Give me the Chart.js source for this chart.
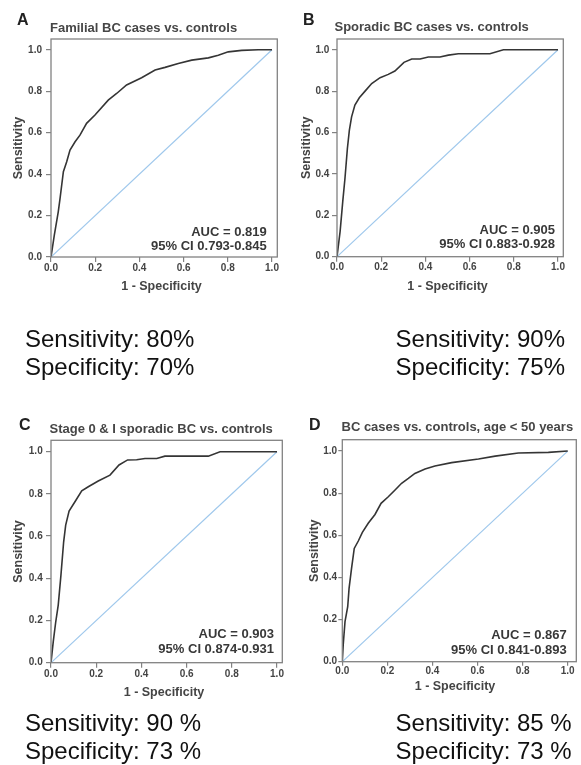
<!DOCTYPE html>
<html><head><meta charset="utf-8">
<script src="https://cdn.jsdelivr.net/npm/chart.js@4.4.0/dist/chart.umd.min.js"></script>
<style>
html,body{margin:0;padding:0;background:#fff;width:581px;height:765px;overflow:hidden;}
canvas{position:absolute;left:0;top:0;}
.note{position:absolute;font-family:"Liberation Sans",Arial,sans-serif;font-size:24px;line-height:27.5px;color:#111;white-space:nowrap;}
</style></head><body>
<canvas id="cA" width="581" height="765"></canvas>
<canvas id="cB" width="581" height="765"></canvas>
<canvas id="cC" width="581" height="765"></canvas>
<canvas id="cD" width="581" height="765"></canvas>
<div class="note" id="nA" style="left:25px;top:325px"></div>
<div class="note" id="nB" style="left:395.6px;top:325px"></div>
<div class="note" id="nC" style="left:25px;top:709px"></div>
<div class="note" id="nD" style="left:395.6px;top:709px"></div>
<script>
// ---- data ----
const xTicks = [0, 0.2, 0.4, 0.6, 0.8, 1.0];
const yTicks = [0, 0.2, 0.4, 0.6, 0.8, 1.0];
const diagX = [0, 1];
const diagY = [0, 1];

const fprA = [0, 0.015, 0.033, 0.041, 0.056, 0.071, 0.086, 0.109, 0.131, 0.161, 0.199, 0.259, 0.297, 0.342, 0.410, 0.471, 0.516, 0.576, 0.637, 0.712, 0.757, 0.802, 0.863, 0.938, 1.0];
const tprA = [0, 0.106, 0.219, 0.283, 0.412, 0.460, 0.516, 0.556, 0.588, 0.645, 0.685, 0.757, 0.789, 0.830, 0.865, 0.902, 0.915, 0.934, 0.950, 0.961, 0.974, 0.990, 0.997, 1.0, 1.0];

const fprB = [0, 0.014, 0.026, 0.036, 0.047, 0.056, 0.066, 0.081, 0.101, 0.127, 0.157, 0.195, 0.232, 0.262, 0.303, 0.338, 0.376, 0.413, 0.466, 0.504, 0.549, 0.692, 0.753, 1.0];
const tprB = [0, 0.121, 0.266, 0.378, 0.523, 0.612, 0.676, 0.733, 0.768, 0.800, 0.837, 0.865, 0.881, 0.897, 0.939, 0.955, 0.955, 0.965, 0.965, 0.974, 0.981, 0.981, 1.0, 1.0];

const fprC = [0, 0.010, 0.021, 0.032, 0.044, 0.056, 0.065, 0.080, 0.106, 0.136, 0.165, 0.209, 0.261, 0.301, 0.339, 0.379, 0.416, 0.468, 0.504, 0.696, 0.748, 1.0];
const tprC = [0, 0.100, 0.194, 0.273, 0.415, 0.573, 0.652, 0.719, 0.763, 0.814, 0.834, 0.861, 0.889, 0.937, 0.961, 0.962, 0.968, 0.968, 0.979, 0.979, 1.0, 1.0];

const fprD = [0, 0.004, 0.012, 0.024, 0.030, 0.041, 0.053, 0.071, 0.089, 0.115, 0.145, 0.172, 0.204, 0.234, 0.263, 0.293, 0.322, 0.367, 0.411, 0.485, 0.604, 0.678, 0.781, 0.914, 1.0];
const tprD = [0, 0.079, 0.190, 0.261, 0.348, 0.443, 0.538, 0.573, 0.614, 0.657, 0.699, 0.752, 0.783, 0.815, 0.847, 0.870, 0.894, 0.915, 0.929, 0.945, 0.962, 0.976, 0.991, 0.994, 1.0];

const panelLetters = ["A", "B", "C", "D"];
const panelTitles = ["Familial BC cases vs. controls", "Sporadic BC cases vs. controls", "Stage 0 & I sporadic BC vs. controls", "BC cases vs. controls, age < 50 years"];
const aucLabels = ["AUC = 0.819", "AUC = 0.905", "AUC = 0.903", "AUC = 0.867"];
const ciLabels = ["95% CI 0.793-0.845", "95% CI 0.883-0.928", "95% CI 0.874-0.931", "95% CI 0.841-0.893"];
const sensLabels = ["Sensitivity: 80%", "Sensitivity: 90%", "Sensitivity: 90 %", "Sensitivity: 85 %"];
const specLabels = ["Specificity: 70%", "Specificity: 75%", "Specificity: 73 %", "Specificity: 73 %"];
const xTitle = "1 - Specificity";
const yTitle = "Sensitivity";

// ---- layout (positions only) ----
const FONT = '"Liberation Sans", Arial, sans-serif';
const layouts = [
  {id:'cA', L:51, T:39, R:277.3, B:257, xMax:1.024, yMax:1.052, letter:[17,25], title:[50,31.5], aucR:266.7, aucY:[235.7,250], yTickPad:4, xTickPad:0.6, tickLen:5, yTitleX:19, xTitleBase:290},
  {id:'cB', L:337, T:39, R:563.3, B:256.7, xMax:1.024, yMax:1.052, letter:[303,25], title:[334.5,31], aucR:555, aucY:[234,248], yTickPad:2.7, xTickPad:0, tickLen:5, yTitleX:306.8, xTitleBase:290},
  {id:'cC', L:51, T:440.3, R:282.3, B:662.7, xMax:1.0235, yMax:1.054, letter:[19,430], title:[49.5,432.5], aucR:274, aucY:[638.3,652.7], yTickPad:3.3, xTickPad:0.6, tickLen:5, yTitleX:18.5, xTitleBase:696},
  {id:'cD', L:342.3, T:439.7, R:576.3, B:661.7, xMax:1.038, yMax:1.054, letter:[309,430], title:[341.5,431], aucR:566.7, aucY:[639.3,654], yTickPad:1.2, xTickPad:-0.5, tickLen:4, yTitleX:314.3, xTitleBase:690}
];
const series = [[fprA,tprA],[fprB,tprB],[fprC,tprC],[fprD,tprD]];

const AX_W = 40, AX_H = 40, CW = 581, CH = 765;
const frameColor = '#828282', tickColor = '#828282', labelColor = '#444';

const annot = {
  id: 'annot',
  afterDatasetsDraw(chart, args, o) {
    const {ctx, chartArea: a} = chart;
    ctx.save();
    ctx.strokeStyle = frameColor; ctx.lineWidth = 1.3;
    ctx.strokeRect(a.left, a.top, a.right - a.left, a.bottom - a.top);
    ctx.restore();
  },
  afterDraw(chart, args, o) {
    const ctx = chart.ctx;
    ctx.save();
    ctx.textBaseline = 'alphabetic';
    ctx.textAlign = 'left';
    ctx.fillStyle = '#222';
    ctx.font = 'bold 16px ' + FONT;
    ctx.fillText(o.letter, o.letterPos[0], o.letterPos[1]);
    ctx.fillStyle = '#464646';
    ctx.font = 'bold 13px ' + FONT;
    ctx.fillText(o.title, o.titlePos[0], o.titlePos[1]);
    ctx.textAlign = 'right';
    ctx.fillStyle = '#383838';
    ctx.fillText(o.auc, o.aucR, o.aucY[0]);
    ctx.fillText(o.ci, o.aucR, o.aucY[1]);
    ctx.textAlign = 'center';
    ctx.fillStyle = labelColor;
    ctx.font = 'bold 12.5px ' + FONT;
    ctx.fillText(xTitle, chart.scales.x.getPixelForValue(0.5), o.xTitleBase);
    ctx.restore();
  }
};

layouts.forEach((p, i) => {
  const [fx, ty] = series[i];
  const roc = fx.map((v, k) => ({x: v, y: ty[k]}));
  const diag = diagX.map((v, k) => ({x: v, y: diagY[k]}));
  const yTitlePad = p.yTitleX - (p.L - AX_W) - 7.5;
  new Chart(document.getElementById(p.id), {
    type: 'scatter',
    data: {datasets: [
      {data: diag, showLine: true, borderColor: '#9fc8ec', borderWidth: 1.2, pointRadius: 0, order: 2},
      {data: roc, showLine: true, borderColor: '#353535', borderWidth: 1.6, pointRadius: 0, tension: 0, order: 1}
    ]},
    options: {
      responsive: false, animation: false, devicePixelRatio: 1,
      layout: {padding: {left: p.L - AX_W, top: p.T, right: CW - p.R, bottom: CH - p.B - AX_H}},
      plugins: {legend: {display: false}, tooltip: {enabled: false},
        annot: {letter: panelLetters[i], title: panelTitles[i], auc: aucLabels[i], ci: ciLabels[i],
                letterPos: p.letter, titlePos: p.title, aucR: p.aucR, aucY: p.aucY, xTitleBase: p.xTitleBase}},
      scales: {
        x: {type: 'linear', min: 0, max: p.xMax,
          afterBuildTicks: s => { s.ticks = xTicks.map(v => ({value: v})); },
          afterFit: s => { s.height = AX_H; },
          grid: {display: true, drawOnChartArea: false, drawTicks: true, tickLength: p.tickLen, color: tickColor, lineWidth: 1.2},
          border: {display: false},
          ticks: {padding: p.xTickPad, color: labelColor, font: {family: FONT, size: 10, weight: 'bold'}, maxRotation: 0, autoSkip: false,
                  callback: v => Number(v).toFixed(1)}
        },
        y: {type: 'linear', min: 0, max: p.yMax,
          afterBuildTicks: s => { s.ticks = yTicks.map(v => ({value: v})); },
          afterFit: s => { s.width = AX_W; },
          grid: {display: true, drawOnChartArea: false, drawTicks: true, tickLength: p.tickLen, color: tickColor, lineWidth: 1.2},
          border: {display: false},
          title: {display: true, text: yTitle, color: labelColor, font: {family: FONT, size: 12.5, weight: 'bold'}, padding: {top: yTitlePad, bottom: 0}},
          ticks: {padding: p.yTickPad, color: labelColor, font: {family: FONT, size: 10, weight: 'bold'}, autoSkip: false,
                  callback: v => Number(v).toFixed(1)}
        }
      }
    },
    plugins: [annot]
  });
});

['nA','nB','nC','nD'].forEach((id, i) => {
  const el = document.getElementById(id);
  el.appendChild(document.createTextNode(sensLabels[i]));
  el.appendChild(document.createElement('br'));
  el.appendChild(document.createTextNode(specLabels[i]));
});
</script>
</body></html>
